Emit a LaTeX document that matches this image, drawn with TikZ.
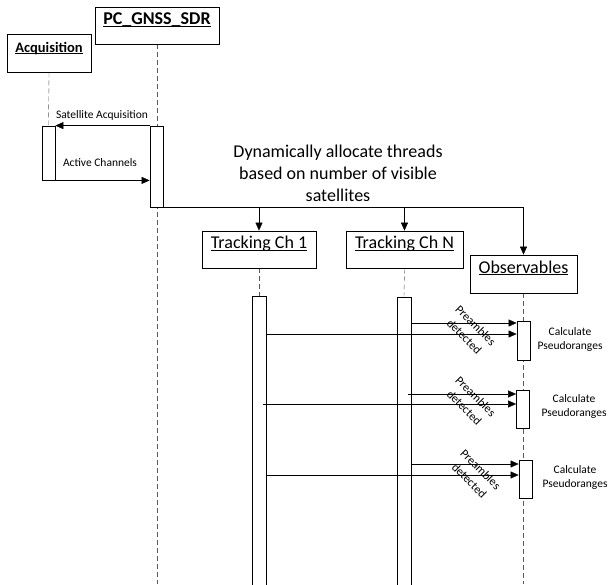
\documentclass[tikz,border=0pt]{standalone}
\usepackage{fontspec}
\setmainfont{Carlito}
\usetikzlibrary{arrows.meta}
\pgfdeclarelayer{bg}
\pgfsetlayers{bg,main}
\newcommand\ulabel[1]{\underline{\smash{#1}}}
\tikzset{
  obj/.style={draw,fill=white,inner sep=0,minimum height=37pt,font=\fontsize{18}{22}\selectfont},
  act/.style={draw,fill=white,inner sep=0,minimum width=13pt},
  life/.style={dash pattern=on 5pt off 3pt,black!65},
  msg/.style={-{Triangle[length=8pt,width=7pt]}},
  small/.style={font=\fontsize{11.5}{14}\selectfont,align=center},
  tilted/.style={font=\fontsize{12}{16}\selectfont,align=center,rotate=-45,inner sep=0},
}

\begin{document}
\begin{tikzpicture}[x=1pt,y=-1pt,line width=0.8pt]
\useasboundingbox (0,0) rectangle (608,584);
\node[obj,minimum width=124pt] (pc) at (157,25.5) {\textbf{\ulabel{PC\_GNSS\_SDR}}};
\node[obj,minimum width=84pt,minimum height=38pt,font=\fontsize{14.5}{17}\selectfont] (acq) at (49,53) {\textbf{\ulabel{Acquisition}}};
\node[obj,minimum width=114pt] (trk1) at (259,249.5) {\ulabel{Tracking Ch 1}};
\node[obj,minimum width=117pt] (trkN) at (404.5,249.5) {\ulabel{Tracking Ch N}};
\node[obj,minimum width=107pt,minimum height=38pt] (obs) at (523.5,274) {\ulabel{Observables}};

\node[act,minimum height=54pt] (acqbar) at (48.5,153) {};
\node[act,minimum height=81pt] (pcbar) at (156.5,166.5) {};
\node[act,minimum width=14pt,minimum height=304pt] (trk1bar) at (259,448) {};
\node[act,minimum width=14pt,minimum height=303pt] (trkNbar) at (404,448.5) {};
\node[act,minimum height=39pt] (obsA) at (523.5,340.5) {};
\node[act,minimum height=38pt] (obsB) at (523,409) {};
\node[act,minimum height=38pt] (obsC) at (525.5,479) {};

\begin{pgfonlayer}{bg}
  \draw[life] (acq.south) -- (acqbar.north);
  \draw[life] (pc.south) -- (pc.south |- 0,584);
  \draw[life] (trk1.south) -- (trk1bar.north);
  \draw[life] (trkN.south) -- (trkNbar.north);
  \draw[life] (obs.south) -- (obs.south |- 0,584);
\end{pgfonlayer}

\draw[msg] (pcbar.north west) -- (acqbar.north east);
\node[small] (satacq) at (102,115) {Satellite Acquisition};
\draw[msg] (acqbar.south east) -- (pcbar.west |- acqbar.south);
\node[small] (actch) at (100,163) {Active Channels};

\draw[msg] (pcbar.south east) -| (obs.north);
\draw[msg] (trk1.north |- pcbar.south) -- (trk1.north);
\draw[msg] (trkN.north |- pcbar.south) -- (trkN.north);
\node[align=center,font=\fontsize{18}{22}\selectfont] (alloc) at (338,173) {Dynamically allocate threads\\based on number of visible\\satellites};

\draw[msg] (trkNbar.east |- 0,323) -- (obsA.west |- 0,323);
\draw[msg] (trk1bar.east |- 0,334) -- (obsA.west |- 0,334);
\draw[msg] ([xshift=-3pt]trkNbar.east |- 0,394) -- (obsB.west |- 0,394);
\draw[msg] ([xshift=-3pt]trk1bar.east |- 0,404) -- (obsB.west |- 0,404);
\draw[msg] (trkNbar.east |- 0,464) -- (obsC.west |- 0,464);
\draw[msg] (trk1bar.east |- 0,475) -- (obsC.west |- 0,475);

\node[tilted] (preA) at (470,331) {Preambles\\detected};
\node[tilted] (preB) at (470,402) {Preambles\\detected};
\node[tilted] (preC) at (475,475) {Preambles\\detected};
\node[small] (calcA) at (570,339) {Calculate\\Pseudoranges};
\node[small] (calcB) at (574,406) {Calculate\\Pseudoranges};
\node[small] (calcC) at (575,477) {Calculate\\Pseudoranges};
\end{tikzpicture}
\end{document}
